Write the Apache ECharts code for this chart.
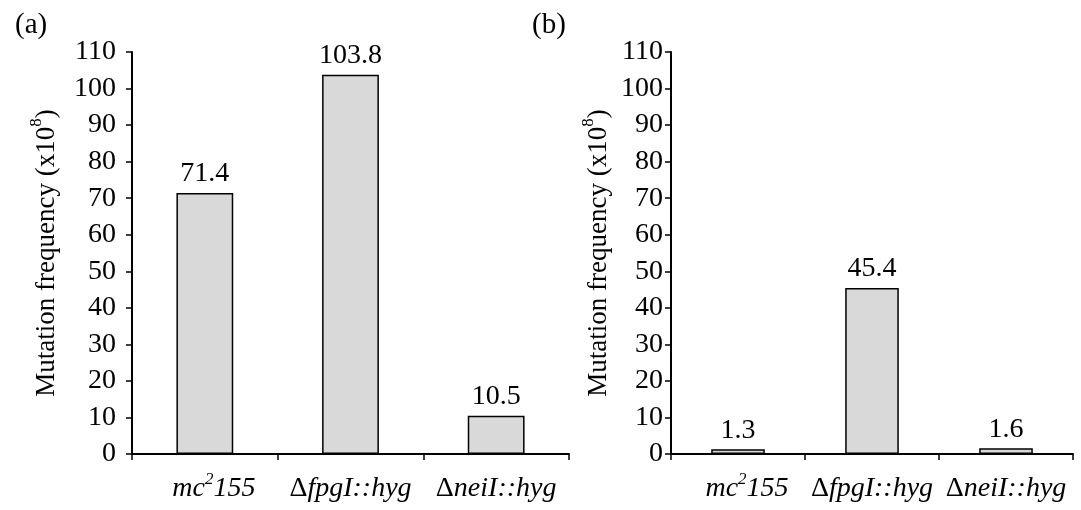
<!DOCTYPE html>
<html>
<head>
<meta charset="utf-8">
<script src="https://cdn.jsdelivr.net/npm/echarts@6/dist/echarts.min.js"></script>
<style>html,body{margin:0;padding:0;background:#fff;}#c{width:1081px;height:510px;}</style>
</head>
<body>
<div id="c"></div>
<script>
const categories = ['mc2155', 'ΔfpgI::hyg', 'ΔneiI::hyg'];
const valuesA = [71.4, 103.8, 10.5];
const valuesB = [1.3, 45.4, 1.6];
const panelLabels = ['(a)', '(b)'];
const yAxisName = 'Mutation frequency (x10^8)';

const FONT = 'Liberation Serif';
const FS = 28;

function catLabel(v) {
  if (v === 'mc2155') return '{m|mc}{sup|2}{i|155}';
  if (v.charAt(0) === 'Δ') return '{n|Δ}{i|' + v.slice(1) + '}';
  return '{i|' + v + '}';
}
function yName(s) {
  const m = s.split('^');
  return '{n|' + m[0] + '}{sup|' + m[1] + '}{n|)}';
}
const yNameText = yName(yAxisName.replace(')', ''));

const catRich = {
  m: { fontFamily: FONT, fontStyle: 'italic', fontSize: FS, color: '#000', lineHeight: 32, verticalAlign: 'bottom', padding: [0, 0, 0, 18] },
  i: { fontFamily: FONT, fontStyle: 'italic', fontSize: FS, color: '#000', lineHeight: 32, verticalAlign: 'bottom' },
  n: { fontFamily: FONT, fontSize: FS, color: '#000', lineHeight: 32, verticalAlign: 'bottom' },
  sup: { fontFamily: FONT, fontStyle: 'italic', fontSize: 17, color: '#000', lineHeight: 32, verticalAlign: 'top', padding: [0, 0, 14, 0] }
};
const nameRich = {
  n: { fontFamily: FONT, fontSize: 27, color: '#000', lineHeight: 32, verticalAlign: 'bottom' },
  sup: { fontFamily: FONT, fontSize: 17, color: '#000', lineHeight: 32, verticalAlign: 'top', padding: [0, 0, 14, 0] }
};

function xAxis(idx) {
  return {
    type: 'category', gridIndex: idx, data: categories,
    axisLine: { lineStyle: { color: '#000', width: 2 } },
    axisTick: { show: true, length: 6, lineStyle: { color: '#000', width: 1.5 } },
    axisLabel: { formatter: catLabel, rich: catRich, margin: 17, interval: 0 }
  };
}
function yAxis(idx, gap) {
  return {
    type: 'value', gridIndex: idx, min: 0, max: 110, interval: 10,
    name: yNameText, nameLocation: 'middle', nameRotate: 90, nameGap: gap,
    nameTextStyle: { rich: nameRich },
    splitLine: { show: false },
    axisLine: { show: true, lineStyle: { color: '#000', width: 2 } },
    axisTick: { show: true, length: 6, lineStyle: { color: '#000', width: 1.5 } },
    axisLabel: { fontFamily: FONT, fontSize: FS, color: '#000', margin: idx === 0 ? 16 : 8 }
  };
}
function bar(idx, data, w) {
  return {
    type: 'bar', xAxisIndex: idx, yAxisIndex: idx, data: data, barWidth: w,
    itemStyle: { color: '#d9d9d9', borderColor: '#000', borderWidth: 1.5 },
    label: { show: true, position: 'top', distance: 5, fontFamily: FONT, fontSize: FS, color: '#000',
      formatter: p => p.value.toFixed(1) }
  };
}

const chart = echarts.init(document.getElementById('c'), null, { renderer: 'canvas' });
chart.setOption({
  animation: false,
  backgroundColor: '#fff',
  title: [
    { text: panelLabels[0], left: 10, top: 6, textStyle: { fontFamily: FONT, fontSize: 29, fontWeight: 'normal', color: '#000' } },
    { text: panelLabels[1], left: 527, top: 6, textStyle: { fontFamily: FONT, fontSize: 29, fontWeight: 'normal', color: '#000' } }
  ],
  grid: [
    { left: 132, right: 512, top: 52, bottom: 56, containLabel: false },
    { left: 671, right: 8, top: 52, bottom: 56, containLabel: false }
  ],
  xAxis: [xAxis(0), xAxis(1)],
  yAxis: [yAxis(0, 72), yAxis(1, 59)],
  series: [bar(0, valuesA, '39%'), bar(1, valuesB, '40%')]
});
</script>
</body>
</html>
